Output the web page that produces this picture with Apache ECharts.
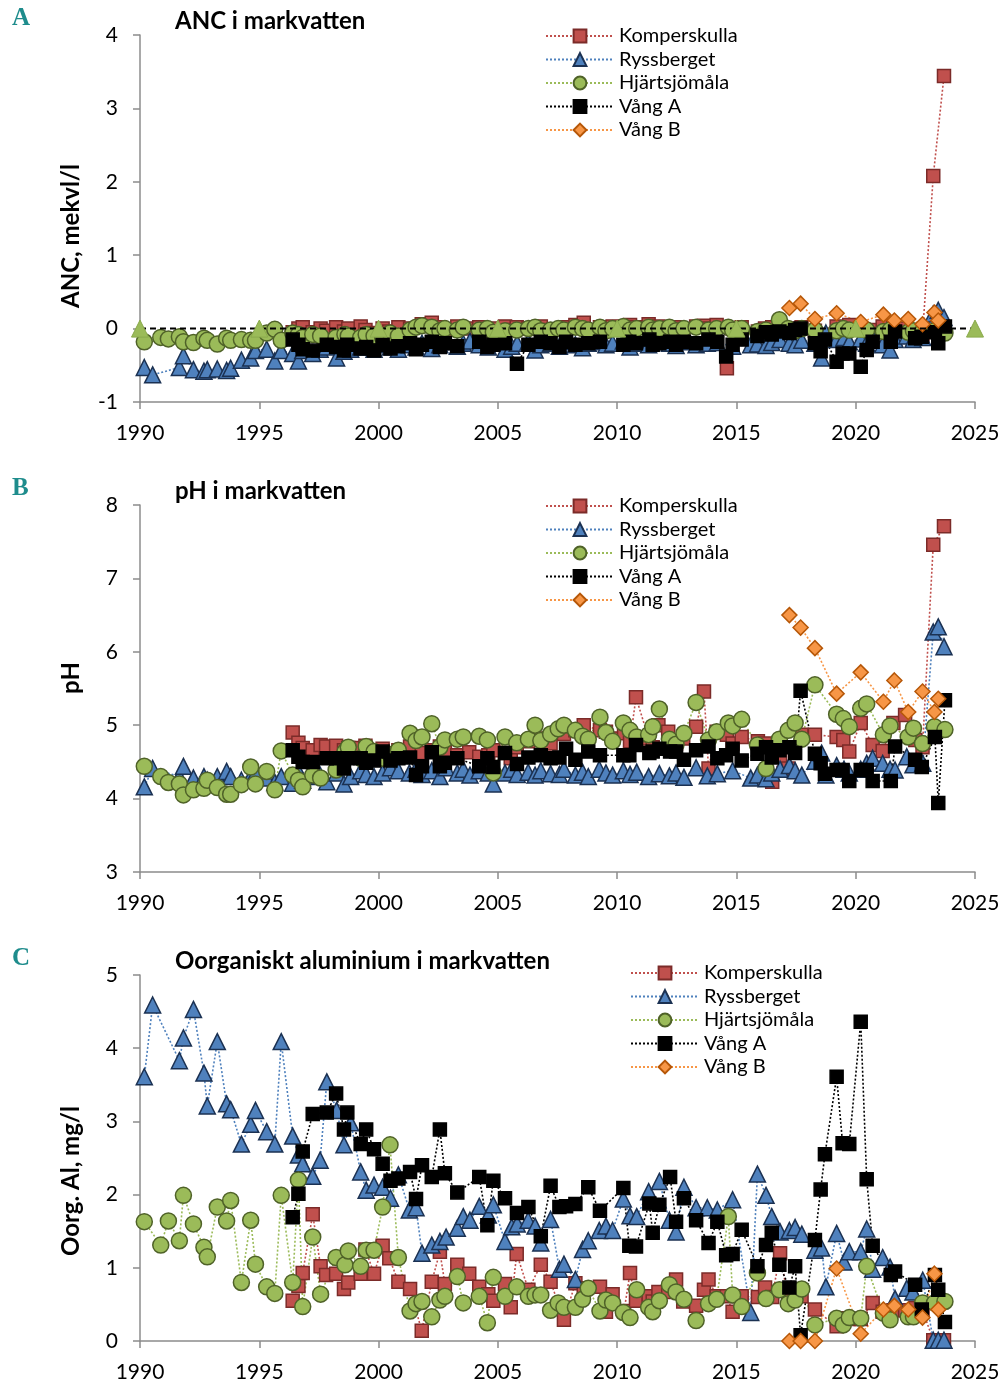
<!DOCTYPE html>
<html><head><meta charset="utf-8">
<script src="https://cdn.jsdelivr.net/npm/echarts@6/dist/echarts.min.js"></script>
<style>html,body{margin:0;padding:0;background:#fff}#c{width:1006px;height:1383px}</style>
</head><body><div id="c"></div>
<script>
// ---------- DATA ----------
const seriesNames = ['Komperskulla', 'Ryssberget', 'Hjärtsjömåla', 'Vång A', 'Vång B'];
const xTicks = [1990, 1995, 2000, 2005, 2010, 2015, 2020, 2025];

const rysT = [1990.18,1990.53,1991.65,1991.82,1992.24,1992.68,1992.82,1993.24,1993.63,1993.80,
1994.25,1994.64,1994.84,1995.31,1995.65,1995.92,1996.40,1996.64,1996.82,1997.24,
1997.55,1997.83,1998.24,1998.55,1998.83,1999.25,1999.48,1999.81,2000.17,2000.50,
2000.83,2001.29,2001.57,2001.82,2002.23,2002.57,2002.83,2003.30,2003.55,2003.83,
2004.22,2004.60,2004.81,2005.30,2005.58,2005.81,2006.27,2006.56,2006.80,2007.21,
2007.58,2007.77,2008.25,2008.55,2008.79,2009.25,2009.53,2009.81,2010.26,2010.54,
2010.82,2011.32,2011.77,2012.19,2012.47,2012.80,2013.31,2013.78,2014.20,2014.84,
2015.60,2015.88,2016.24,2016.48,2016.83,2017.22,2017.46,2017.74,2018.29,2018.57,
2018.75,2019.20,2019.51,2019.73,2020.21,2020.46,2020.71,2021.13,2021.44,2021.65,
2022.14,2022.40,2022.81,2023.25,2023.46,2023.70];
const rysANC = [-0.53,-0.63,-0.53,-0.37,-0.56,-0.58,-0.56,-0.55,-0.57,-0.54,
-0.43,-0.40,-0.30,-0.28,-0.44,-0.30,-0.34,-0.44,-0.30,-0.34,
-0.28,-0.25,-0.40,-0.31,-0.28,-0.25,-0.25,-0.28,-0.22,-0.25,
-0.28,-0.22,-0.25,-0.20,-0.27,-0.22,-0.18,-0.24,-0.20,-0.17,
-0.22,-0.25,-0.20,-0.28,-0.24,-0.20,-0.18,-0.29,-0.22,-0.20,
-0.24,-0.18,-0.22,-0.26,-0.20,-0.18,-0.22,-0.20,-0.17,-0.25,
-0.20,-0.22,-0.18,-0.20,-0.23,-0.18,-0.22,-0.20,-0.19,-0.24,
-0.22,-0.21,-0.23,-0.19,-0.15,-0.20,-0.22,-0.16,-0.20,-0.40,
-0.06,-0.15,-0.12,-0.18,-0.14,-0.20,-0.12,-0.22,-0.29,-0.15,
-0.10,-0.15,-0.12,0.20,0.25,0.15];
const rysPH = [4.16,4.41,4.30,4.44,4.28,4.30,4.25,4.30,4.37,4.30,
4.25,4.30,4.35,4.28,4.22,4.30,4.21,4.37,4.25,4.30,
4.32,4.23,4.35,4.20,4.30,4.38,4.33,4.30,4.35,4.42,
4.38,4.35,4.40,4.33,4.38,4.30,4.42,4.35,4.40,4.32,
4.38,4.35,4.20,4.35,4.40,4.33,4.36,4.32,4.38,4.34,
4.33,4.40,4.32,4.36,4.30,4.40,4.35,4.32,4.38,4.33,
4.36,4.30,4.34,4.31,4.35,4.29,4.42,4.31,4.34,4.38,
4.28,4.32,4.27,4.35,4.40,4.45,4.38,4.32,4.51,4.62,
4.32,4.45,4.40,4.35,4.40,4.48,4.55,4.48,4.40,4.39,
4.57,4.46,4.48,6.27,6.34,6.07];
const rysAL = [3.61,4.59,3.83,4.14,4.53,3.66,3.21,4.09,3.24,3.16,
2.69,2.96,3.15,2.86,2.69,4.09,2.80,2.54,2.42,2.25,
2.47,3.54,3.15,2.68,2.98,2.31,2.06,2.13,2.10,1.95,
2.27,1.79,1.82,1.20,1.31,1.36,1.42,1.54,1.70,1.65,
1.84,1.72,1.86,1.36,1.56,1.60,1.65,1.57,1.34,1.66,
0.98,1.05,0.84,1.25,1.37,1.51,1.57,1.51,1.94,1.71,
1.70,2.04,2.18,1.65,1.49,2.10,1.82,1.82,1.79,1.93,
0.39,2.28,1.99,1.70,1.49,1.51,1.55,1.46,1.24,1.27,
0.74,1.47,1.08,1.22,1.22,1.53,0.98,1.14,1.01,0.58,
0.72,0.67,0.83,0.01,0.01,0.01];

const kompT = [1996.40,1996.64,1996.82,1997.24,1997.57,1997.80,1998.22,1998.55,1998.73,1999.25,
1999.45,1999.81,2000.17,2000.45,2000.83,2001.32,2001.81,2002.23,2002.57,2002.78,
2003.30,2003.80,2004.22,2004.60,2004.81,2005.30,2005.54,2005.79,2006.28,2006.80,
2007.21,2007.77,2008.25,2008.60,2009.28,2009.53,2009.81,2010.29,2010.54,2010.79,
2011.32,2011.49,2011.73,2012.14,2012.47,2012.77,2013.31,2013.64,2013.83,2014.17,
2014.60,2014.84,2015.22,2015.90,2016.20,2016.50,2016.83,2017.17,2017.73,2018.29,
2019.20,2019.48,2019.73,2020.21,2020.71,2021.13,2021.58,2022.07,2022.50,2022.80,
2023.25,2023.70];
const kompANC = [-0.05,0.00,0.02,-0.05,0.00,-0.03,0.02,-0.04,0.00,0.03,
-0.02,-0.06,0.00,-0.04,0.02,0.00,0.06,0.08,0.02,-0.02,
0.03,0.00,0.02,-0.03,0.00,0.03,-0.02,0.02,0.00,0.03,
-0.02,0.02,0.05,0.08,0.02,0.00,0.03,0.00,0.05,0.02,
0.06,0.00,0.03,0.00,0.02,-0.02,0.03,0.04,0.00,0.05,
-0.54,0.00,0.02,-0.04,0.00,0.02,-0.04,0.00,0.02,-0.03,
0.03,-0.02,0.05,0.00,-0.02,0.03,0.04,0.00,-0.05,-0.08,
2.08,3.44];
const kompPH = [4.90,4.76,4.69,4.66,4.73,4.71,4.72,4.66,4.69,4.69,
4.72,4.60,4.68,4.60,4.66,4.71,4.62,4.66,4.71,4.63,
4.59,4.63,4.57,4.59,4.66,4.62,4.55,4.70,4.78,4.82,
4.75,4.88,4.93,5.00,4.93,4.91,4.82,4.89,4.78,5.38,
4.82,4.70,5.00,4.91,4.75,4.82,4.98,5.46,4.41,4.91,
4.87,4.75,4.84,4.78,4.75,4.23,4.57,4.41,4.87,4.87,
4.84,4.80,4.64,5.03,4.73,4.65,5.03,5.14,4.80,4.70,
7.46,7.71];
const kompAL = [0.55,0.75,0.93,1.73,1.02,0.90,0.92,0.71,0.80,0.92,
1.25,0.92,1.30,1.13,0.81,0.71,0.14,0.81,1.22,0.78,
1.04,0.92,0.74,0.64,0.55,0.78,0.46,1.19,0.70,1.04,
0.81,0.29,0.79,0.72,0.74,0.40,0.64,0.41,0.93,0.55,
0.61,0.54,0.67,0.67,0.84,0.54,0.48,0.70,0.84,0.61,
0.61,0.40,0.61,0.60,0.73,0.60,1.20,0.56,0.61,0.43,
0.20,0.31,0.30,0.30,0.52,0.40,0.42,0.42,0.45,0.42,
0.01,0.01];

const hjT = [1990.18,1990.87,1991.19,1991.65,1991.82,1992.24,1992.68,1992.82,1993.24,1993.63,
1993.80,1994.25,1994.64,1994.84,1995.31,1995.65,1995.92,1996.40,1996.64,1996.82,
1997.24,1997.57,1998.22,1998.59,1998.73,1999.25,1999.48,1999.81,2000.17,2000.48,
2000.83,2001.32,2001.57,2001.82,2002.23,2002.57,2002.78,2003.30,2003.55,2004.22,
2004.56,2004.81,2005.30,2005.79,2006.28,2006.56,2006.80,2007.21,2007.53,2007.77,
2008.25,2008.55,2008.79,2009.28,2009.53,2009.81,2010.26,2010.54,2010.82,2011.32,
2011.49,2011.77,2012.19,2012.47,2012.80,2013.31,2013.83,2014.17,2014.66,2014.84,
2015.22,2015.88,2016.24,2016.80,2017.17,2017.46,2017.74,2018.29,2019.20,2019.48,
2019.73,2020.21,2020.46,2021.16,2021.44,2022.20,2022.42,2022.80,2023.30,2023.74];
const hjANC = [-0.18,-0.12,-0.14,-0.11,-0.18,-0.19,-0.13,-0.16,-0.21,-0.13,
-0.16,-0.15,-0.16,-0.16,-0.06,-0.01,-0.16,-0.06,-0.08,-0.12,
-0.08,-0.10,-0.12,-0.08,-0.10,-0.12,-0.08,-0.10,-0.12,-0.06,
-0.10,-0.02,0.02,0.04,0.02,-0.03,0.00,-0.02,0.02,-0.02,
0.00,-0.05,-0.03,-0.02,0.00,0.02,-0.03,-0.02,0.00,-0.02,
0.02,0.00,-0.02,0.02,-0.03,0.00,0.03,-0.02,0.00,0.02,
-0.02,0.00,0.02,-0.03,0.00,0.02,-0.02,0.00,0.02,-0.02,
0.00,-0.04,-0.02,0.12,0.00,-0.03,0.00,-0.02,-0.03,0.00,
-0.02,-0.01,-0.02,-0.04,-0.02,-0.05,-0.03,-0.04,-0.03,-0.06];
const hjPH = [4.44,4.30,4.22,4.20,4.05,4.12,4.14,4.25,4.15,4.06,
4.06,4.19,4.43,4.20,4.37,4.12,4.65,4.32,4.25,4.16,
4.32,4.28,4.39,4.64,4.70,4.55,4.71,4.64,4.55,4.60,
4.66,4.89,4.79,4.84,5.02,4.70,4.80,4.81,4.84,4.85,
4.80,4.35,4.84,4.76,4.81,5.00,4.79,4.88,4.95,5.00,
4.93,4.85,4.81,5.11,4.90,4.78,5.03,4.93,4.84,4.87,
4.98,5.22,4.81,4.74,4.89,5.31,4.80,4.91,5.03,4.99,
5.08,4.73,4.41,4.81,4.93,5.03,4.81,5.55,5.15,5.09,
4.98,5.23,5.29,4.87,4.99,4.84,4.96,4.75,4.98,4.94];
const hjAL = [1.63,1.31,1.64,1.37,1.99,1.60,1.28,1.15,1.83,1.64,
1.92,0.80,1.65,1.05,0.74,0.65,1.99,0.80,2.20,0.47,
1.42,0.64,1.14,1.04,1.23,1.02,1.24,1.24,1.83,2.68,
1.14,0.41,0.51,0.54,0.33,0.56,0.61,0.88,0.52,0.61,
0.25,0.87,0.61,0.74,0.61,0.63,0.63,0.42,0.52,0.46,
0.46,0.57,0.72,0.41,0.56,0.52,0.39,0.32,0.70,0.46,
0.40,0.55,0.77,0.67,0.57,0.28,0.51,0.57,1.70,0.63,
0.47,0.93,0.58,0.70,0.51,0.56,0.71,0.22,0.31,0.22,
0.32,0.31,1.02,0.38,0.29,0.33,0.33,0.52,0.52,0.54];

const vaT = [1996.40,1996.64,1996.82,1997.24,1997.83,1998.22,1998.55,1998.69,1999.25,1999.48,
1999.81,2000.17,2000.50,2000.83,2001.32,2001.57,2001.82,2002.23,2002.57,2002.78,
2003.30,2004.22,2004.56,2004.81,2005.30,2005.80,2006.28,2006.80,2007.21,2007.58,
2007.86,2008.25,2008.79,2009.28,2010.26,2010.51,2010.79,2011.35,2011.49,2011.77,
2012.22,2012.47,2012.80,2013.31,2013.83,2014.20,2014.57,2014.84,2015.22,2015.88,
2016.24,2016.48,2016.80,2017.22,2017.46,2017.69,2018.29,2018.53,2018.71,2019.20,
2019.45,2019.73,2020.21,2020.46,2020.71,2021.47,2021.65,2022.49,2022.77,2023.32,
2023.46,2023.74];
const vaANC = [-0.15,-0.22,-0.28,-0.30,-0.22,-0.25,-0.30,-0.22,-0.27,-0.25,
-0.30,-0.22,-0.27,-0.24,-0.20,-0.28,-0.22,-0.18,-0.25,-0.20,
-0.24,-0.18,-0.25,-0.22,-0.20,-0.48,-0.22,-0.18,-0.20,-0.25,
-0.18,-0.22,-0.20,-0.18,-0.22,-0.18,-0.20,-0.15,-0.22,-0.20,
-0.18,-0.22,-0.18,-0.20,-0.15,-0.18,-0.38,-0.22,-0.15,-0.10,
-0.05,-0.08,-0.04,-0.06,-0.02,0.00,-0.20,-0.31,-0.15,-0.45,
-0.34,-0.34,-0.52,-0.29,-0.18,-0.18,-0.04,-0.13,-0.11,-0.05,
-0.20,0.03];
const vaPH = [4.66,4.57,4.50,4.50,4.55,4.55,4.41,4.55,4.55,4.49,
4.52,4.64,4.52,4.55,4.56,4.32,4.44,4.63,4.44,4.49,
4.55,4.44,4.55,4.43,4.62,4.47,4.56,4.59,4.55,4.56,
4.68,4.53,4.64,4.59,4.59,4.59,4.73,4.62,4.64,4.68,
4.64,4.64,4.53,4.66,4.71,4.55,4.59,4.68,4.52,4.61,
4.70,4.56,4.66,4.70,4.62,5.47,4.61,4.48,4.34,4.39,
4.39,4.24,4.39,4.39,4.24,4.24,4.71,4.53,4.43,4.84,
3.94,5.34];
const vaAL = [1.69,2.01,2.59,3.10,3.12,3.38,2.89,3.12,2.69,2.89,
2.62,2.42,2.19,2.22,2.31,1.94,2.40,2.24,2.89,2.29,
2.03,2.24,1.58,2.19,1.95,1.75,1.83,1.43,2.12,1.83,
1.84,1.87,2.10,1.78,2.09,1.30,1.29,1.88,1.48,1.86,
2.24,1.63,1.95,1.65,1.34,1.63,1.17,1.19,1.52,1.02,
1.31,1.48,1.04,0.73,1.02,0.08,1.38,2.07,2.55,3.61,
2.70,2.69,4.36,2.21,1.30,0.90,0.95,0.77,0.43,0.90,
0.70,0.26];

const vbT = [2017.22,2017.69,2018.29,2019.20,2020.21,2021.16,2021.62,2022.20,2022.80,2023.30,2023.46];
const vbANC = [0.28,0.34,0.13,0.21,0.09,0.19,0.11,0.13,0.06,0.22,0.11];
const vbPH = [6.50,6.33,6.05,5.43,5.72,5.32,5.61,5.18,5.46,5.18,5.36];
const vbAL = [0.00,0.00,0.00,0.99,0.10,0.43,0.48,0.43,0.32,0.92,0.43];

// reference (zero) line in the ANC panel
const refT = [1990, 1995, 2000, 2005, 2010, 2015, 2020, 2025];
const refANC = [0, 0, 0, 0, 0, 0, 0, 0];

// ---------- CHART ----------
const FONT = 'Lato, "Open Sans", sans-serif';
const sty = {
  'Komperskulla': {symbol: 'rect', size: 13, fill: '#C0504D', border: '#7B2B29', line: '#C0504D'},
  'Ryssberget':   {symbol: 'triangle', size: 16, fill: '#4F81BD', border: '#1B3152', line: '#4F81BD'},
  'Hjärtsjömåla': {symbol: 'circle', size: 16, fill: '#9BBB59', border: '#4F6228', line: '#9BBB59'},
  'Vång A':       {symbol: 'rect', size: 13, fill: '#000000', border: '#000000', line: '#000000'},
  'Vång B':       {symbol: 'diamond', size: 15, fill: '#F79646', border: '#B65708', line: '#F79646'}
};
const times = {'Komperskulla': kompT, 'Ryssberget': rysT, 'Hjärtsjömåla': hjT, 'Vång A': vaT, 'Vång B': vbT};
const vals = [
  {'Komperskulla': kompANC, 'Ryssberget': rysANC, 'Hjärtsjömåla': hjANC, 'Vång A': vaANC, 'Vång B': vbANC},
  {'Komperskulla': kompPH, 'Ryssberget': rysPH, 'Hjärtsjömåla': hjPH, 'Vång A': vaPH, 'Vång B': vbPH},
  {'Komperskulla': kompAL, 'Ryssberget': rysAL, 'Hjärtsjömåla': hjAL, 'Vång A': vaAL, 'Vång B': vbAL}
];
const panels = [
  {top: 35, height: 367, min: -1, max: 4, title: 'ANC i markvatten', letter: 'A', ylab: 'ANC, mekvl/l', ylabY: 236, legLeft: 540, legTop: 21},
  {top: 505, height: 367, min: 3, max: 8, title: 'pH i markvatten', letter: 'B', ylab: 'pH', ylabY: 678, legLeft: 540, legTop: 491},
  {top: 975, height: 366, min: 0, max: 5, title: 'Oorganiskt aluminium i markvatten', letter: 'C', ylab: 'Oorg. Al, mg/l', ylabY: 1181, legLeft: 625, legTop: 958}
];
const axisCol = '#8C8C8C';
const option = {
  animation: false,
  backgroundColor: '#ffffff',
  title: [], legend: [], grid: [], xAxis: [], yAxis: [], series: [], graphic: []
};
panels.forEach((p, i) => {
  option.grid.push({left: 140, width: 835, top: p.top, height: p.height});
  option.xAxis.push({
    type: 'value', gridIndex: i, min: xTicks[0], max: xTicks[xTicks.length - 1], interval: 5,
    axisLine: {onZero: false, lineStyle: {color: axisCol, width: 1.5}},
    axisTick: {show: true, length: 7, lineStyle: {color: axisCol, width: 1.5}},
    axisLabel: {fontSize: 21, color: '#000', margin: 21, fontFamily: FONT, formatter: v => String(v)},
    splitLine: {show: false}
  });
  option.yAxis.push({
    type: 'value', gridIndex: i, min: p.min, max: p.max, interval: 1,
    axisLine: {show: true, onZero: false, lineStyle: {color: axisCol, width: 1.5}},
    axisTick: {show: true, length: 7, lineStyle: {color: axisCol, width: 1.5}},
    axisLabel: {fontSize: 21, color: '#000', margin: 22, fontFamily: FONT},
    splitLine: {show: false}
  });
  option.title.push({text: p.title, left: 170, top: p.top - 31, textStyle: {fontSize: 24, fontWeight: 'bold', color: '#000', fontFamily: FONT}});
  option.title.push({text: p.letter, left: 7, top: p.top - 34, textStyle: {fontSize: 25, fontWeight: 'bold', color: '#1E8C8C', fontFamily: '"Liberation Serif", "DejaVu Serif", serif'}});
  option.graphic.push({type: 'text', x: 71, y: p.ylabY, rotation: Math.PI / 2,
    style: {text: p.ylab, fontSize: 24, fontWeight: 'bold', fontFamily: FONT, fill: '#000', align: 'center', verticalAlign: 'middle'}});
  option.legend.push({
    data: seriesNames, orient: 'vertical', left: p.legLeft, top: p.legTop,
    itemWidth: 68, itemHeight: 16, itemGap: 3.5, selectedMode: false,
    textStyle: {fontSize: 20, color: '#000', fontFamily: FONT}
  });
  seriesNames.forEach(n => {
    const s = sty[n];
    option.series.push({
      type: 'line', name: n, xAxisIndex: i, yAxisIndex: i,
      data: times[n].map((t, k) => [t, vals[i][n][k]]),
      symbol: s.symbol, symbolSize: s.size, showSymbol: true,
      lineStyle: {color: s.line, width: 1.6, type: [2, 2]},
      itemStyle: {color: s.fill, borderColor: s.border, borderWidth: 1.5}
    });
  });
  if (i === 0) {
    option.series.push({
      type: 'line', name: 'ref', xAxisIndex: 0, yAxisIndex: 0, z: 5,
      data: refT.map((t, k) => [t, refANC[k]]),
      symbol: 'triangle', symbolSize: 17, clip: false,
      lineStyle: {color: '#000', width: 2, type: [6, 4]},
      itemStyle: {color: '#9BBB59', borderColor: '#8AAA4C', borderWidth: 1}
    });
  }
});
const chart = echarts.init(document.getElementById('c'));
chart.setOption(option);
</script>
</body></html>
